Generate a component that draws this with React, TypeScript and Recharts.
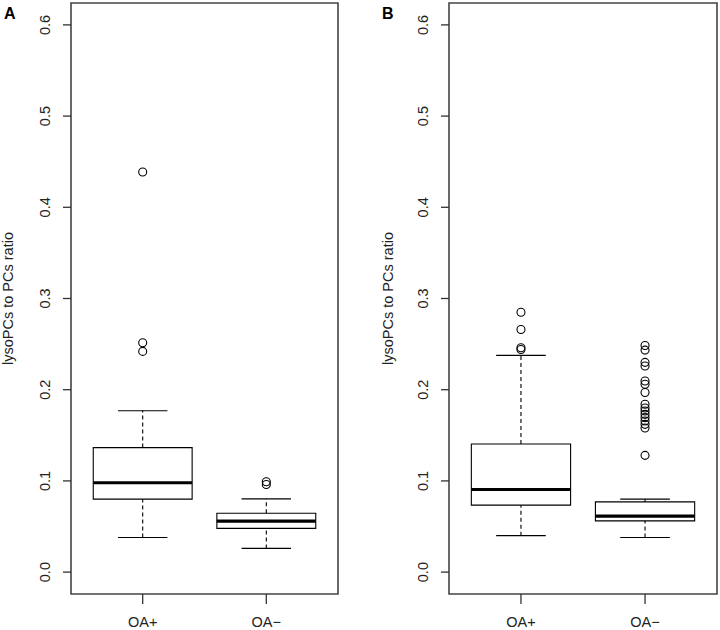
import {
  ComposedChart,
  XAxis,
  YAxis,
  Scatter,
  ReferenceArea,
  ReferenceLine,
  Customized,
} from "recharts";

const groups = ["OA+", "OA\u2212"];
const yTicks = [0, 0.1, 0.2, 0.3, 0.4, 0.5, 0.6];
const yLabel = "lysoPCs to PCs ratio";

// box stats: [lower whisker, q1, median, q3, upper whisker]
const panelABoxPlus = [0.038, 0.08, 0.098, 0.1365, 0.177];
const panelABoxMinus = [0.026, 0.048, 0.0558, 0.0646, 0.0803];
const panelAOutliersPlus = [0.4387, 0.2515, 0.242];
const panelAOutliersMinus = [0.096, 0.099];

const panelBBoxPlus = [0.04, 0.0734, 0.0906, 0.1405, 0.2376];
const panelBBoxMinus = [0.038, 0.0562, 0.0613, 0.077, 0.08];
const panelBOutliersPlus = [0.285, 0.266, 0.246, 0.244];
const panelBOutliersMinus = [
  0.2485, 0.2434, 0.23, 0.226, 0.2095, 0.206, 0.197, 0.184, 0.18, 0.1766,
  0.173, 0.1694, 0.1657, 0.162, 0.158, 0.128,
];

const FONT = '"Liberation Sans", Arial, Helvetica, sans-serif';
const X_DOMAIN = [0.42, 2.58];
const Y_DOMAIN = [-0.024, 0.624];

interface PanelProps {
  letter: string;
  boxes: number[][];
  outliers: number[][];
  axisWidth: number;
  rightMargin: number;
  letterX: number;
  labelX: number;
}

function YTick(props: any) {
  const { x, y, payload } = props;
  const tx = x - 11;
  return (
    <text
      x={tx}
      y={y}
      transform={`rotate(-90, ${tx}, ${y})`}
      textAnchor="middle"
      fontSize={14.5}
      fontFamily={FONT}
      fill="#222"
    >
      {payload.value.toFixed(1)}
    </text>
  );
}

function XTick(props: any) {
  const { x, y, payload } = props;
  return (
    <text
      x={x}
      y={y + 21}
      textAnchor="middle"
      fontSize={14.5}
      fontFamily={FONT}
      fill="#222"
    >
      {groups[payload.value - 1]}
    </text>
  );
}

function BoxPanel({
  letter,
  boxes,
  outliers,
  axisWidth,
  rightMargin,
  letterX,
  labelX,
}: PanelProps) {
  const points = outliers.flatMap((vals, i) =>
    vals.map((v) => ({ x: i + 1, y: v }))
  );

  return (
    <ComposedChart
      width={360}
      height={630}
      margin={{ top: 3, right: rightMargin, bottom: 0, left: 0 }}
    >
      <XAxis
        type="number"
        dataKey="x"
        domain={X_DOMAIN}
        ticks={[1, 2]}
        allowDataOverflow
        axisLine={false}
        tickLine={{ stroke: "#333", strokeWidth: 1.3 }}
        tickSize={10}
        height={36}
        tick={<XTick />}
      />
      <YAxis
        type="number"
        dataKey="y"
        domain={Y_DOMAIN}
        ticks={yTicks}
        allowDataOverflow
        axisLine={false}
        tickLine={{ stroke: "#333", strokeWidth: 1.3 }}
        tickSize={8}
        width={axisWidth}
        tick={<YTick />}
      />
      {/* plot frame */}
      <ReferenceArea
        x1={X_DOMAIN[0]}
        x2={X_DOMAIN[1]}
        y1={Y_DOMAIN[0]}
        y2={Y_DOMAIN[1]}
        fill="none"
        stroke="#444"
        strokeWidth={1.6}
        ifOverflow="visible"
      />
      {boxes.map((b, i) => {
        const pos = i + 1;
        const [lo, q1, med, q3, hi] = b;
        return [
          <ReferenceLine
            key={`wl${i}`}
            segment={[{ x: pos, y: lo }, { x: pos, y: q1 }]}
            stroke="#000"
            strokeWidth={1.1}
            strokeDasharray="4 3"
            ifOverflow="visible"
          />,
          <ReferenceLine
            key={`wh${i}`}
            segment={[{ x: pos, y: q3 }, { x: pos, y: hi }]}
            stroke="#000"
            strokeWidth={1.1}
            strokeDasharray="4 3"
            ifOverflow="visible"
          />,
          <ReferenceLine
            key={`cl${i}`}
            segment={[{ x: pos - 0.2, y: lo }, { x: pos + 0.2, y: lo }]}
            stroke="#000"
            strokeWidth={1.1}
            ifOverflow="visible"
          />,
          <ReferenceLine
            key={`ch${i}`}
            segment={[{ x: pos - 0.2, y: hi }, { x: pos + 0.2, y: hi }]}
            stroke="#000"
            strokeWidth={1.1}
            ifOverflow="visible"
          />,
          <ReferenceArea
            key={`box${i}`}
            x1={pos - 0.4}
            x2={pos + 0.4}
            y1={q1}
            y2={q3}
            fill="#fff"
            fillOpacity={1}
            stroke="#000"
            strokeWidth={1.1}
            ifOverflow="visible"
          />,
          <ReferenceLine
            key={`md${i}`}
            segment={[{ x: pos - 0.4, y: med }, { x: pos + 0.4, y: med }]}
            stroke="#000"
            strokeWidth={3.2}
            ifOverflow="visible"
          />,
        ];
      })}
      <Scatter
        data={points}
        dataKey="y"
        isAnimationActive={false}
        shape={(p: any) => (
          <circle
            cx={p.cx}
            cy={p.cy}
            r={4}
            fill="none"
            stroke="#000"
            strokeWidth={1.1}
          />
        )}
      />
      <Customized
        component={() => (
          <g fontFamily={FONT}>
            <text x={letterX} y={19} fontSize={16} fontWeight="bold" fill="#000">
              {letter}
            </text>
            <text
              x={labelX}
              y={298.5}
              transform={`rotate(-90, ${labelX}, 298.5)`}
              textAnchor="middle"
              fontSize={14.5}
              fill="#222"
            >
              {yLabel}
            </text>
          </g>
        )}
      />
    </ComposedChart>
  );
}

export default function App() {
  return (
    <div
      style={{
        position: "absolute",
        left: 0,
        top: 0,
        width: 720,
        height: 630,
        display: "flex",
        background: "#fff",
      }}
    >
      <BoxPanel
        letter="A"
        boxes={[panelABoxPlus, panelABoxMinus]}
        outliers={[panelAOutliersPlus, panelAOutliersMinus]}
        axisWidth={71}
        rightMargin={22}
        letterX={4}
        labelX={13}
      />
      <BoxPanel
        letter="B"
        boxes={[panelBBoxPlus, panelBBoxMinus]}
        outliers={[panelBOutliersPlus, panelBOutliersMinus]}
        axisWidth={89}
        rightMargin={3}
        letterX={22}
        labelX={33}
      />
    </div>
  );
}
